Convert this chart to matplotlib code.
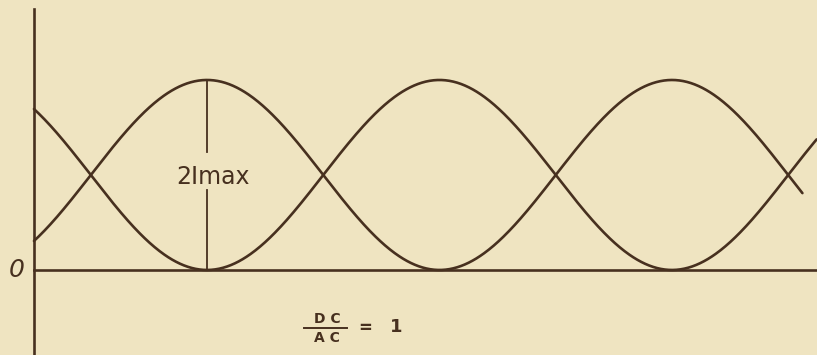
import numpy as np
import matplotlib
matplotlib.use("Agg")
import matplotlib.pyplot as plt

# ---- data (phase in degrees, current in units of I_max) ----
i_max = 1.0                       # amplitude of the alternating component
dc_level = 1.0                    # DC / AC = 1
theta_axis = -134.0               # phase at the vertical axis
theta_end_a = 472.0               # end of the rising curve (right edge)
theta_end_b = 461.0               # end of the falling curve
marker_theta = 0.0                # position of the "2Imax" marker
label_2imax = "2Imax"
label_zero = "0"
ratio_num, ratio_den, ratio_val = "D C", "A C", "1"

bg = "#efe4c1"
ink = "#47301f"

fig = plt.figure(figsize=(8.17, 3.55), dpi=100, facecolor=bg)
ax = fig.add_axes([0, 0, 1, 1], facecolor=bg)
ax.set_xlim(-160.3, 472.3)
ax.set_ylim(-0.895, 2.842)
ax.axis("off")

# curves
tb = np.linspace(theta_axis, theta_end_b, 800)
ta = np.linspace(theta_axis, theta_end_a, 800)
curve_b = dc_level + i_max * np.cos(np.radians(tb))
curve_a = dc_level - i_max * np.cos(np.radians(ta))
ax.plot(tb, curve_b, color=ink, lw=1.9, solid_capstyle="round")
ax.plot(ta, curve_a, color=ink, lw=1.9, solid_capstyle="round")

# axes
ax.plot([theta_axis, theta_axis], [-0.895, 2.747], color=ink, lw=1.9)
ax.plot([theta_axis, 472.3], [0, 0], color=ink, lw=1.9)

# 2Imax marker
peak = dc_level + i_max
ax.plot([marker_theta, marker_theta], [peak, 1.24], color=ink, lw=1.3)
ax.plot([marker_theta, marker_theta], [0.84, 0], color=ink, lw=1.3)
ax.text(marker_theta + 4.6, 0.98, label_2imax, fontsize=17, color=ink,
        ha="center", va="center", family="DejaVu Sans")

# zero label
ax.text(-147, 0.0, label_zero, fontsize=18, color=ink, ha="center", va="center",
        style="italic", family="DejaVu Sans", fontweight="light")

# DC/AC = 1
fx = (327 - 207) * 360 / 465
ax.text(fx, (270 - 319) / 95, ratio_num, fontsize=10, color=ink, ha="center",
        va="center", fontweight="bold")
ax.text(fx, (270 - 338) / 95, ratio_den, fontsize=10, color=ink, ha="center",
        va="center", fontweight="bold")
ax.plot([(304 - 207) * 360 / 465, (347 - 207) * 360 / 465], [(270 - 328) / 95] * 2,
        color=ink, lw=1.4)
ax.text((365 - 207) * 360 / 465, (270 - 328) / 95, "=", fontsize=12, color=ink,
        ha="center", va="center", fontweight="bold")
ax.text((396 - 207) * 360 / 465, (270 - 327) / 95, ratio_val, fontsize=13, color=ink,
        ha="center", va="center", fontweight="bold")

fig.savefig("out.png", dpi=100, facecolor=bg)
